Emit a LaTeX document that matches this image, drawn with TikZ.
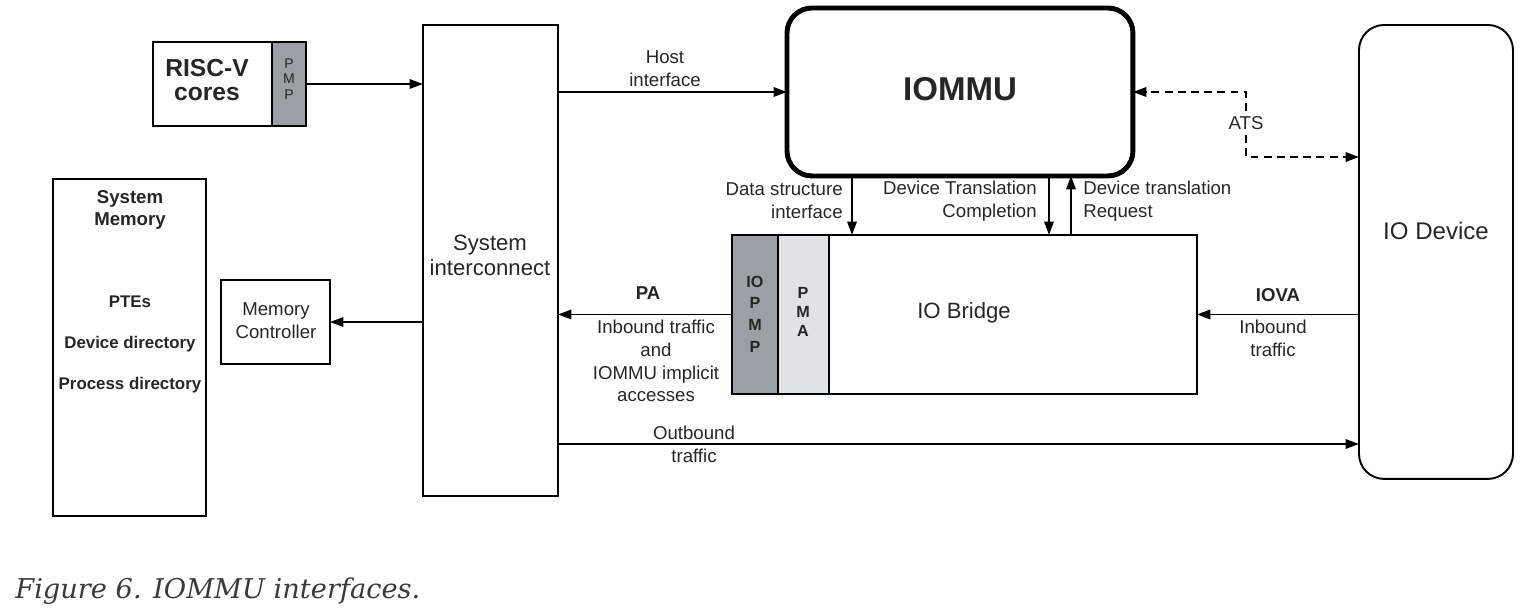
\documentclass[tikz,border=0pt]{standalone}
\usepackage{fontspec}
\setmainfont{Liberation Sans}
\newfontfamily\capfont{DejaVu Serif}
\usetikzlibrary{arrows.meta}

\definecolor{txt}{HTML}{262626}
\definecolor{pmpgray}{HTML}{9AA0A6}
\definecolor{pmagray}{HTML}{E0E2E6}
\definecolor{capgray}{HTML}{3A3A3A}

\tikzset{
  blk/.style={draw, line width=1.1pt, inner sep=0pt, outer sep=0pt, anchor=north west},
  lbl/.style={text=txt, align=center, inner sep=0pt, font=\fontsize{10.6}{13}\selectfont},
  arr/.style={line width=1.1pt, -{Triangle[length=0.27cm, width=0.19cm]}},
  atsline/.style={dash pattern=on 4.5pt off 3pt},
}

\begin{document}
\begin{tikzpicture}[x=0.02cm, y=-0.02cm]
\useasboundingbox (0,0) rectangle (1534,615);

% boxes
\node [blk, minimum width=2.38cm, minimum height=1.68cm] (cores) at (153,42) {};
\node [blk, fill=pmpgray, minimum width=0.68cm, minimum height=1.68cm] (pmp) at (272,42) {};
\node [blk, minimum width=2.70cm, minimum height=9.42cm] (sysic) at (423,25) {};
\node [blk, line width=2.8pt, rounded corners=0.5cm, minimum width=6.92cm, minimum height=3.36cm] (iommu) at (787,8) {};
\node [blk, rounded corners=0.5cm, minimum width=3.08cm, minimum height=9.08cm] (iodev) at (1359,25) {};
\node [blk, minimum width=9.30cm, minimum height=3.18cm] (bridge) at (732,235) {};
\node [blk, fill=pmpgray, minimum width=0.92cm, minimum height=3.18cm] (iopmp) at (732,235) {};
\node [blk, fill=pmagray, minimum width=1.02cm, minimum height=3.18cm] (pma) at (778,235) {};
\node [blk, minimum width=3.06cm, minimum height=6.74cm] (sysmem) at (53,179) {};
\node [blk, minimum width=2.18cm, minimum height=1.68cm] (memctl) at (221,280) {};

% box texts
\node [lbl, font=\bfseries\fontsize{14}{14}\selectfont] (corestext) at (207,80) {RISC-V\\cores};
\node [lbl, font=\fontsize{8}{8.8}\selectfont] (pmptext) at (289,79) {P\\M\\P};
\node [lbl, font=\fontsize{12.6}{14.3}\selectfont] (sysictext) at (490,255) {System\\interconnect};
\node [lbl, font=\bfseries\fontsize{18.8}{20}\selectfont] (iommutext) at (960,89) {IOMMU};
\node [lbl, font=\fontsize{13.7}{15}\selectfont] (iodevtext) at (1436,231) {IO Device};
\node [lbl, font=\fontsize{12.6}{14}\selectfont] (bridgetext) at (964,313) {IO Bridge};
\node [lbl, font=\bfseries\fontsize{9.2}{12.3}\selectfont] (iopmptext) at (755,314) {IO\\P\\M\\P};
\node [lbl, font=\bfseries\fontsize{9.2}{10.7}\selectfont] (pmatext) at (803,312) {P\\M\\A};
\node [lbl, font=\bfseries\fontsize{10.6}{13}\selectfont] (memtitle) at (130,210) {System\\Memory};
\node [lbl, font=\bfseries\fontsize{9.6}{11}\selectfont] (ptes) at (130,302) {PTEs};
\node [lbl, font=\bfseries\fontsize{9.6}{11}\selectfont] (devdir) at (130,344) {Device directory};
\node [lbl, font=\bfseries\fontsize{9.6}{11}\selectfont] (procdir) at (130,385) {Process directory};
\node [lbl] (memctltext) at (276,321) {Memory\\Controller};

% connectors
\draw [arr] (pmp.east) -- (pmp.east -| sysic.west);
\draw [arr] (sysic.east |- iommu.west) -- (iommu.west);
\node [lbl] (hostif) at (665,69) {Host\\interface};

\coordinate (atsbend) at (1246,123);
\node [lbl, inner sep=3pt] (ats) at (atsbend) {ATS};
\draw [arr, atsline] (ats.north) |- (iommu.east);
\draw [arr, atsline] (ats.south) |- (iodev.west |- 0,157);

\coordinate (dsi) at (852,0);
\coordinate (dtc) at (1049,0);
\coordinate (dtr) at (1071,0);
\draw [arr] (iommu.south -| dsi) -- (bridge.north -| dsi);
\draw [arr] (iommu.south -| dtc) -- (bridge.north -| dtc);
\draw [arr] (bridge.north -| dtr) -- (iommu.south -| dtr);
\node [lbl, anchor=east, align=right] (dsitext) at (843,201) {Data structure\\interface};
\node [lbl, anchor=east, align=right] (dtctext) at (1037,201) {Device Translation\\Completion};
\node [lbl, anchor=west, align=left] (dtrtext) at (1083,201) {Device translation\\Request};

\draw [arr] (iopmp.west) -- (iopmp.west -| sysic.east);
\node [lbl, font=\bfseries\fontsize{10.6}{13}\selectfont] (pa) at (648,293) {PA};
\node [lbl] (inbound) at (656,361) {Inbound traffic\\and\\IOMMU implicit\\accesses};

\draw [arr] (iodev.west |- bridge.east) -- (bridge.east);
\node [lbl, font=\bfseries\fontsize{10.6}{13}\selectfont] (iova) at (1278,295) {IOVA};
\node [lbl] (iovain) at (1273,338) {Inbound\\traffic};

\draw [arr] (sysic.east |- 0,444) -- (iodev.west |- 0,444);
\node [lbl] (outbound) at (694,444) {Outbound\\traffic};

\draw [arr] (sysic.west |- memctl.east) -- (memctl.east);

% caption
\node [anchor=west, inner sep=0pt, text=capgray, font=\capfont\itshape\fontsize{15.5}{18}\selectfont] (caption) at (15,591) {Figure 6. IOMMU interfaces.};
\end{tikzpicture}
\end{document}
